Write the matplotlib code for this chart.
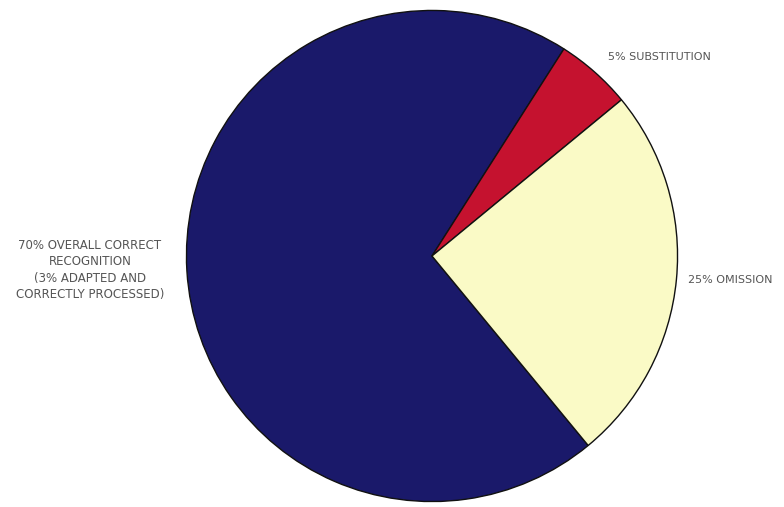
import matplotlib
matplotlib.use("Agg")
import matplotlib.pyplot as plt

values = [70, 5, 25]
labels = ["70% OVERALL CORRECT\nRECOGNITION\n(3% ADAPTED AND\nCORRECTLY PROCESSED)",
          "5% SUBSTITUTION",
          "25% OMISSION"]
colors = ["#1a196a", "#c5122f", "#fafac6"]

W, H = 784, 507
fig = plt.figure(figsize=(W/100, H/100), dpi=100)
cx, cy, r = 432, 256, 248
ax = fig.add_axes([(cx - r)/W, (H - cy - r)/H, 2*r/W, 2*r/H])
ax.pie(values, colors=colors, startangle=-50.5, counterclock=False,
       wedgeprops=dict(edgecolor="#111111", linewidth=1.0))
ax.set_xlim(-1.01, 1.01)
ax.set_ylim(-1.01, 1.01)
ax.set_aspect("equal")
ax.axis("off")

tc = "#555555"
fig.text(90/W, 1 - 270/H, labels[0], ha="center", va="center", fontsize=8.5,
         color=tc, linespacing=1.35, family="DejaVu Sans")
fig.text(608/W, 1 - 57/H, labels[1], ha="left", va="center", fontsize=8,
         color=tc, family="DejaVu Sans")
fig.text(688/W, 1 - 280/H, labels[2], ha="left", va="center", fontsize=8,
         color=tc, family="DejaVu Sans")

fig.savefig("out.png", dpi=100, facecolor="white")
